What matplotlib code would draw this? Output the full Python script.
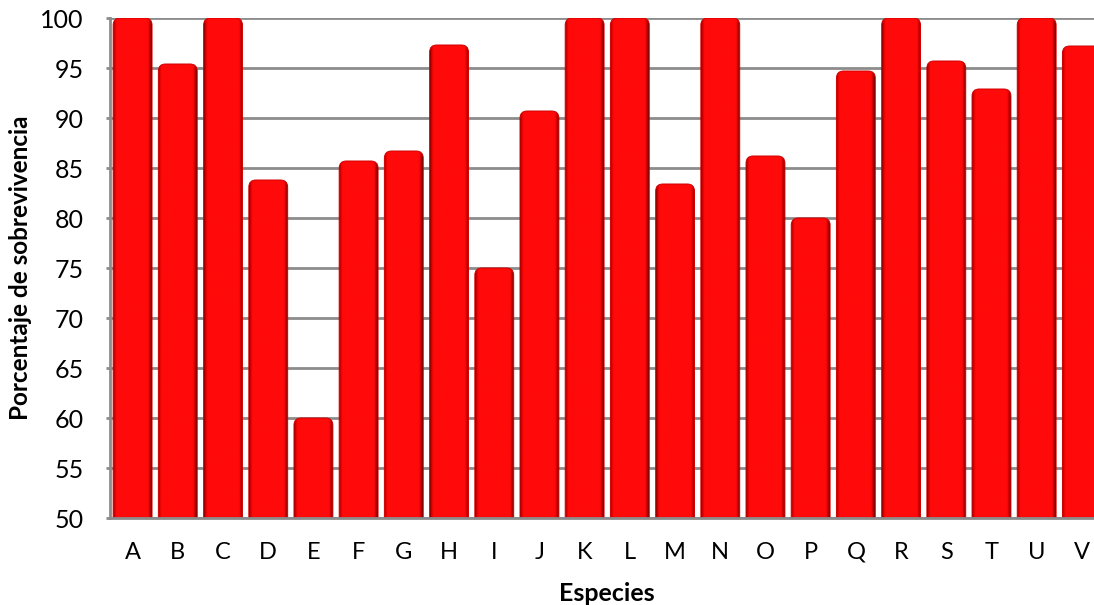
import numpy as np
import matplotlib
matplotlib.use("Agg")
import matplotlib.pyplot as plt
from matplotlib.patches import FancyBboxPatch
from matplotlib.colors import LinearSegmentedColormap

plt.rcParams['font.family'] = ['Lato', 'DejaVu Sans']

especies = list("ABCDEFGHIJKLMNOPQRSTUV")
sobrevivencia = [100, 95.4, 100, 83.8, 60.0, 85.7, 86.7, 97.3, 75.0, 90.7, 100,
                 100, 83.4, 100, 86.2, 80.0, 94.7, 100, 95.7, 92.9, 100, 97.2]

fig = plt.figure(figsize=(10.94, 6.05), dpi=100)
ax = fig.add_axes([110 / 1094, 87 / 605, 994.5 / 1094, 500 / 605])

x = np.arange(len(especies))
bars = ax.bar(x, np.array(sobrevivencia) - 50, bottom=50, width=0.86,
              color='none', edgecolor='none', zorder=3)

# flat red face with darker rims at the sides
shade = LinearSegmentedColormap.from_list(
    'shade', [(0.0, '#800000'), (0.04, '#d80000'), (0.09, '#ff0a0a'),
              (0.90, '#ff0a0a'), (0.95, '#c80000'), (1.0, '#5a0000')])
grad = np.linspace(0, 1, 256).reshape(1, -1)

RADIUS = 0.16          # corner radius in x data units
ASPECT = 4.5           # y data units per x data unit for round corners

for rect in bars:
    x0, y0 = rect.get_x(), rect.get_y()
    w, h = rect.get_width(), rect.get_height()
    clip = FancyBboxPatch((x0, y0 - 2), w, h + 2,
                          boxstyle=f"round,pad=0,rounding_size={RADIUS}",
                          mutation_aspect=ASPECT,
                          transform=ax.transData, facecolor='none', edgecolor='none')
    ax.add_patch(clip)
    im = ax.imshow(grad, cmap=shade, aspect='auto', extent=(x0, x0 + w, y0, y0 + h),
                   zorder=4, interpolation='bilinear')
    im.set_clip_path(clip)
    # thin darker rim along the rounded top
    rim = FancyBboxPatch((x0, y0 - 2), w, h + 2,
                         boxstyle=f"round,pad=0,rounding_size={RADIUS}",
                         mutation_aspect=ASPECT, facecolor='none',
                         edgecolor='#d00000', linewidth=0.7, zorder=4.5)
    ax.add_patch(rim)

ax.set_xlim(-0.5, len(especies) - 0.5)
ax.set_ylim(50, 100)
ax.set_yticks(np.arange(50, 101, 5))
ax.set_xticks(x)
ax.set_xticklabels(especies)

ax.yaxis.grid(True, color='#8c8c8c', linewidth=2.0, zorder=1)
ax.set_axisbelow(True)
for side in ['top', 'right']:
    ax.spines[side].set_visible(False)
for side in ['left', 'bottom']:
    ax.spines[side].set_color('#8c8c8c')
    ax.spines[side].set_linewidth(2.0)
    ax.spines[side].set_zorder(5)

ax.tick_params(axis='y', length=3, width=2, color='#8c8c8c', labelsize=18, pad=16)
ax.tick_params(axis='x', length=0, labelsize=17, pad=17)

ax.set_xlabel('Especies', fontsize=18, fontweight='bold', labelpad=14)
ax.set_ylabel('Porcentaje de sobrevivencia', fontsize=17.5, fontweight='bold')
ax.yaxis.set_label_coords(-0.078, 0.5)

fig.savefig('out.png', dpi=100)
